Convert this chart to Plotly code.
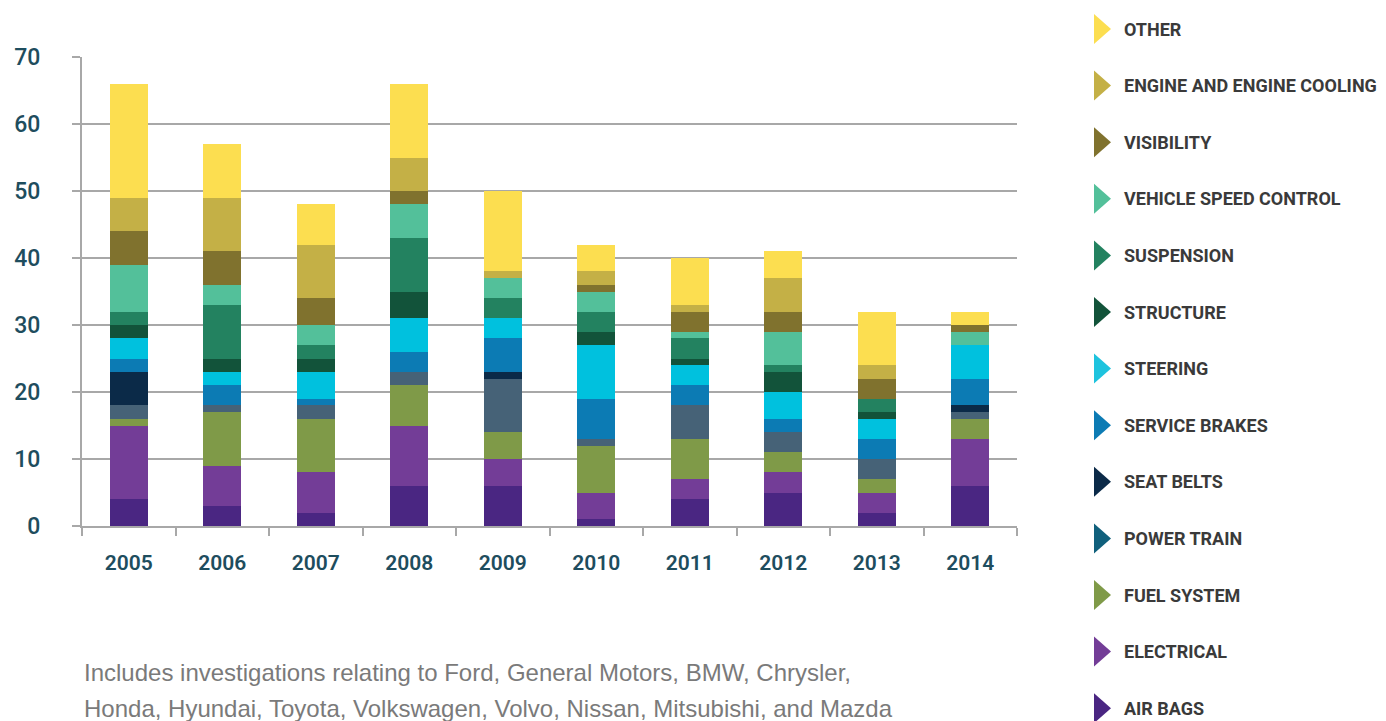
import plotly.graph_objects as go

years = ["2005", "2006", "2007", "2008", "2009", "2010", "2011", "2012", "2013", "2014"]

# series listed bottom-to-top in the stack
air_bags        = [4, 3, 2, 6, 6, 1, 4, 5, 2, 6]
electrical      = [11, 6, 6, 9, 4, 4, 3, 3, 3, 7]
fuel_system     = [1, 8, 8, 6, 4, 7, 6, 3, 2, 3]
power_train     = [2, 1, 2, 2, 8, 1, 5, 3, 3, 1]
seat_belts      = [5, 0, 0, 0, 1, 0, 0, 0, 0, 1]
service_brakes  = [2, 3, 1, 3, 5, 6, 3, 2, 3, 4]
steering        = [3, 2, 4, 5, 3, 8, 3, 4, 3, 5]
structure       = [2, 2, 2, 4, 0, 2, 1, 3, 1, 0]
suspension      = [2, 8, 2, 8, 3, 3, 3, 1, 2, 0]
speed_control   = [7, 3, 3, 5, 3, 3, 1, 5, 0, 2]
visibility      = [5, 5, 4, 2, 0, 1, 3, 3, 3, 1]
engine_cooling  = [5, 8, 8, 5, 1, 2, 1, 5, 2, 0]
other           = [17, 8, 6, 11, 12, 4, 7, 4, 8, 2]

series_names = ["AIR BAGS", "ELECTRICAL", "FUEL SYSTEM", "POWER TRAIN", "SEAT BELTS",
                "SERVICE BRAKES", "STEERING", "STRUCTURE", "SUSPENSION",
                "VEHICLE SPEED CONTROL", "VISIBILITY", "ENGINE AND ENGINE COOLING", "OTHER"]
series_values = [air_bags, electrical, fuel_system, power_train, seat_belts,
                 service_brakes, steering, structure, suspension,
                 speed_control, visibility, engine_cooling, other]
series_colors = ["#4A2682", "#733D97", "#7F9A48", "#466277", "#0B2A48",
                 "#0C7BB4", "#00C1DE", "#12533A", "#238260",
                 "#53C09A", "#80722E", "#C4B046", "#FCDE50"]
legend_colors = ["#4A2682", "#733D97", "#7F9A48", "#10607C", "#0B2A48",
                 "#0C7BB4", "#1EC3DE", "#12533A", "#238260",
                 "#53C09A", "#80722E", "#C4B046", "#FCDE50"]

y_ticks = [0, 10, 20, 30, 40, 50, 60, 70]

footnote_lines = ["Includes investigations relating to Ford, General Motors, BMW, Chrysler,",
                  "Honda, Hyundai, Toyota, Volkswagen, Volvo, Nissan, Mitsubishi, and Mazda"]

W, H = 1386, 721
L, R, T, B = 82, 1017, 57, 526

fig = go.Figure()
for name, vals, col in zip(series_names, series_values, series_colors):
    fig.add_trace(go.Bar(x=years, y=vals, name=name, marker=dict(color=col, line=dict(width=0)),
                         showlegend=False))

grid_col = "#A8A8A8"
fig.update_layout(
    width=W, height=H,
    margin=dict(l=L, r=W - R, t=T, b=H - B),
    barmode="stack", bargap=0.595,
    plot_bgcolor="white", paper_bgcolor="white",
    xaxis=dict(type="category", showline=True, linecolor=grid_col, linewidth=2,
               ticks="outside", tickson="boundaries", ticklen=8, tickcolor=grid_col, tickwidth=2,
               showgrid=False,
               tickfont=dict(family="Roboto", size=21, color="#1E4D5E", weight=600),
               ticklabelstandoff=17),
    yaxis=dict(range=[0, 70], tickvals=y_ticks, showline=True, linecolor=grid_col, linewidth=2,
               ticks="outside", ticklen=8, tickcolor=grid_col, tickwidth=2,
               showgrid=True, gridcolor=grid_col, gridwidth=2, zeroline=False,
               tickfont=dict(family="Roboto", size=23, color="#1E4D5E", weight=500),
               ticklabelstandoff=27),
)

def px_x(px):
    return (px - L) / (R - L)

def px_y(py):
    return (B - py) / (B - T)

# custom legend: triangles + labels, top item is OTHER
legend_top = 29
legend_step = 56.6
order = list(range(len(series_names)))[::-1]
shapes = []
annots = []
for i, idx in enumerate(order):
    yc = legend_top + i * legend_step
    shapes.append(dict(type="path", xref="paper", yref="paper",
                       xsizemode="pixel", ysizemode="pixel",
                       xanchor=px_x(1094), yanchor=px_y(yc),
                       path="M 0,-15 L 17,0 L 0,15 Z",
                       fillcolor=legend_colors[idx], line=dict(width=0)))
    annots.append(dict(xref="paper", yref="paper", x=px_x(1122), y=px_y(yc),
                       xanchor="left", yanchor="middle", showarrow=False,
                       text=series_names[idx],
                       font=dict(family="Roboto", size=18, color="#3A3A3A", weight="bold")))

for j, (line, yc) in enumerate(zip(footnote_lines, [672, 708])):
    annots.append(dict(xref="paper", yref="paper", x=px_x(82), y=px_y(yc),
                       xanchor="left", yanchor="middle", align="left", showarrow=False,
                       text=line,
                       font=dict(family="Liberation Sans", size=24, color="#7A7A7A")))

fig.update_layout(shapes=shapes, annotations=annots)
fig.write_html("out.html", config={"displayModeBar": False},
               post_script="document.body.style.margin='0';")
